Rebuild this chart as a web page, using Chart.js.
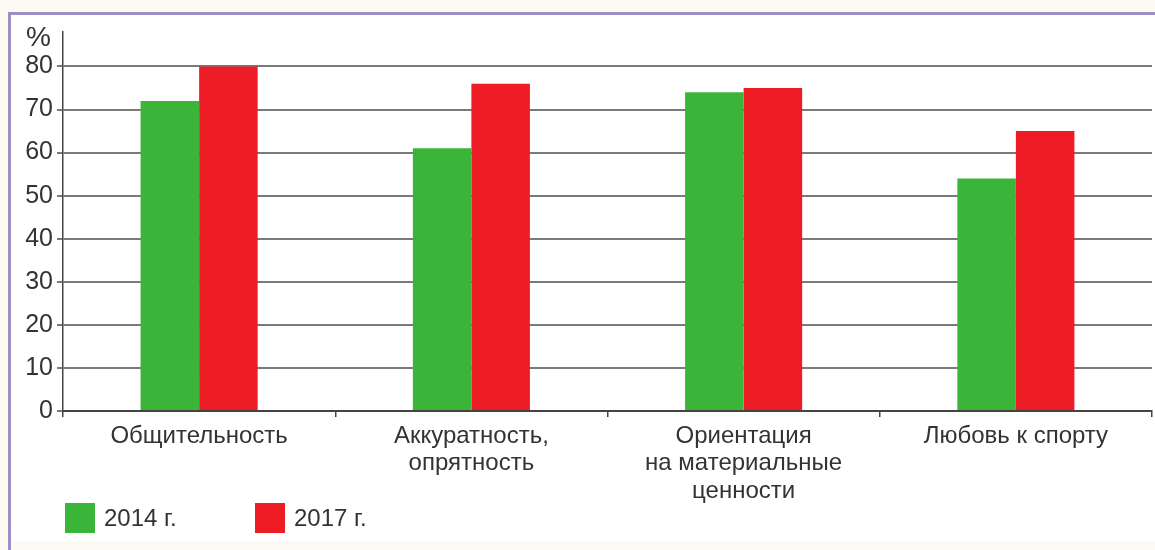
<!DOCTYPE html>
<html>
<head>
<meta charset="utf-8">
<script src="https://cdn.jsdelivr.net/npm/chart.js@4.4.1/dist/chart.umd.min.js"></script>
<style>
  html, body { margin: 0; padding: 0; }
  body { width: 1155px; height: 550px; background: #fcfbf3; position: relative; overflow: hidden;
         font-family: "Liberation Sans", Arial, sans-serif; color: #333; }
  #frame { position: absolute; left: 8px; top: 12px; width: 1200px; height: 526px;
           border-left: 3px solid #9d90c6; border-top: 3px solid #9d90c6; background: #fff; }
  #frame2 { position: absolute; left: 8px; top: 538px; width: 3px; height: 20px; background: #9d90c6; }
  #wrap { position: absolute; left: 0; top: 0; width: 1155px; height: 550px; }
  #unit { position: absolute; left: 26px; top: 21px; font-size: 28px; }
  #legend { position: absolute; left: 65px; top: 503px; display: flex; font-size: 24px; }
  .item { display: flex; align-items: center; }
  .box { width: 30px; height: 30px; margin-right: 9px; }
</style>
</head>
<body>
<div id="frame"></div>
<div id="frame2"></div>
<div id="wrap"><canvas id="chart" width="1155" height="550"></canvas></div>
<div id="unit">%</div>
<div id="legend"></div>
<script>
const categories = [
  ['Общительность'],
  ['Аккуратность,', 'опрятность'],
  ['Ориентация', 'на материальные', 'ценности'],
  ['Любовь к спорту']
];
const seriesNames = ['2014 г.', '2017 г.'];
const values2014 = [72, 61, 74, 54];
const values2017 = [80, 76, 75, 65];
const yTicks = [0, 10, 20, 30, 40, 50, 60, 70, 80];

const green = '#3bb43a';
const red = '#ee1c25';
const textColor = '#333';
const fontFamily = '"Liberation Sans", Arial, sans-serif';

const ctx = document.getElementById('chart').getContext('2d');

const chart = new Chart(ctx, {
  type: 'bar',
  data: {
    labels: categories,
    datasets: [
      { label: seriesNames[0], data: values2014, backgroundColor: green },
      { label: seriesNames[1], data: values2017, backgroundColor: red }
    ]
  },
  options: {
    responsive: false,
    animation: false,
    events: [],
    layout: { padding: { top: 32, right: 3, bottom: 39, left: 0 } },
    datasets: { bar: { categoryPercentage: 0.43, barPercentage: 1 } },
    plugins: {
      legend: { display: false },
      tooltip: { enabled: false }
    },
    scales: {
      x: {
        grid: { drawOnChartArea: false, tickLength: 6, color: '#444', lineWidth: 1.5, offset: true },
        border: { color: '#444', width: 2 },
        ticks: { color: textColor, font: { family: fontFamily, size: 24, lineHeight: 1.16 }, padding: 5, maxRotation: 0, autoSkip: false },
        afterFit: (scale) => { scale.height = 100; }
      },
      y: {
        min: 0,
        max: 88,
        afterBuildTicks: (scale) => { scale.ticks = yTicks.map(v => ({ value: v })); },
        grid: { color: '#7a7a7a', lineWidth: 2, tickLength: 6 },
        border: { color: '#444', width: 1.5 },
        ticks: { color: textColor, font: { family: fontFamily, size: 25 }, padding: 4 },
        afterFit: (scale) => { scale.width = 63; }
      }
    }
  }
});

// legend in html, colours taken from the chart datasets
const legendEl = document.getElementById('legend');
chart.data.datasets.forEach((ds, i) => {
  const item = document.createElement('div');
  item.className = 'item';
  item.style.width = i === 0 ? '190px' : 'auto';
  const box = document.createElement('div');
  box.className = 'box';
  box.style.background = ds.backgroundColor;
  const label = document.createElement('span');
  label.textContent = ds.label;
  item.appendChild(box);
  item.appendChild(label);
  legendEl.appendChild(item);
});
</script>
</body>
</html>
